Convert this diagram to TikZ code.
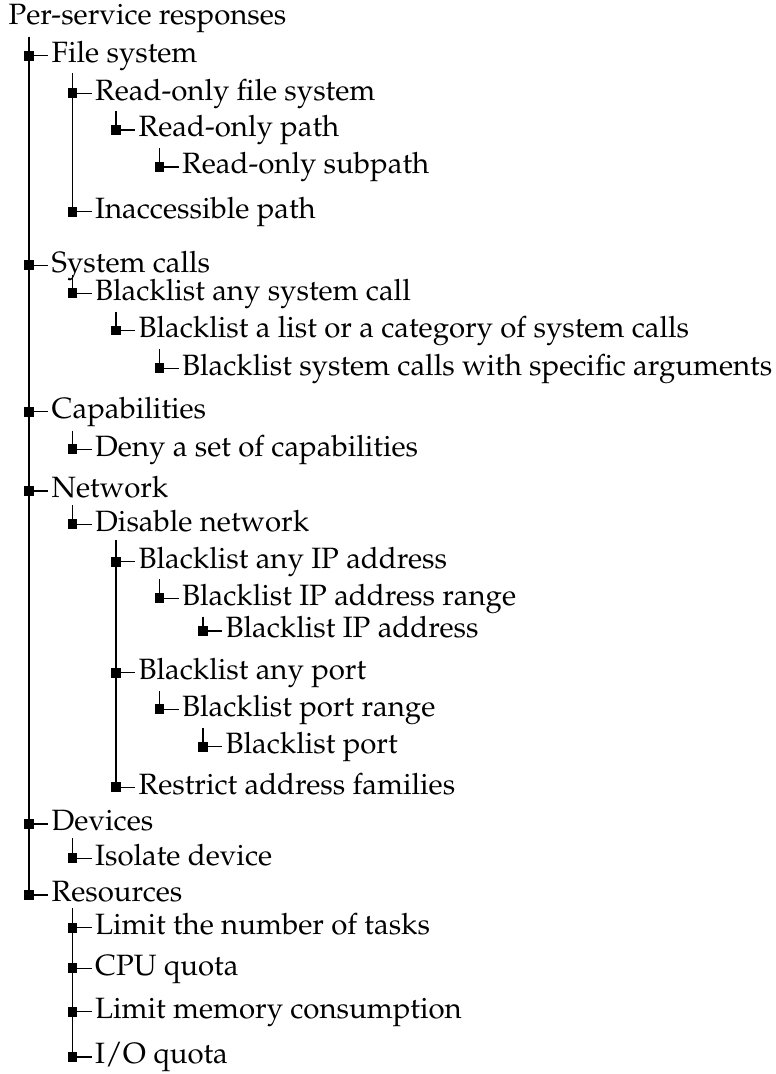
\documentclass[tikz,border=0pt]{standalone}
\IfFileExists{mathpazo.sty}{%
  \usepackage[T1]{fontenc}\usepackage{mathpazo}%
  \newcommand\treefont{\fontsize{11.05}{13}\selectfont}%
}{%
  \usepackage{fontspec}\setmainfont{Liberation Serif}%
  \newcommand\treefont{\fontsize{12.3}{14}\selectfont}%
}
\tikzset{
  sq/.style={fill=black, draw=none, inner sep=0pt, outer sep=0pt, minimum width=3.7pt, minimum height=3.7pt, shape=rectangle},
  lbl/.style={anchor=base west, inner xsep=1.2pt, inner ysep=0pt, font=\treefont},
  conn/.style={line width=0.45pt, black},
}
\newcommand\ent[4]{%
  \node[sq] (s#1) at (#2,#3) {};
  \node[lbl] (t#1) at (#2+19,#3+6.8) {#4};
  \draw[conn] (s#1.center) -- (s#1.center -| t#1.west);
}
\newcommand\vconn[3]{%
  \coordinate (v#3) at (#1,#2);
  \draw[conn] (v#3) -- (s#3.center);
}
\begin{document}
\begin{tikzpicture}[x=0.376pt, y=-0.376pt]
\useasboundingbox (0,0) rectangle (775,1074);
\def\La{29}\def\Lb{72.5}\def\Lc{116}\def\Ld{159.5}\def\Le{203}
\node[lbl, inner xsep=0pt] (root) at (8,25) {Per-service responses};
\ent{fs}{\La}{55.7}{File system}
\ent{rofs}{\Lb}{93.3}{Read-only file system}
\ent{rop}{\Lc}{130}{Read-only path}
\ent{ros}{\Ld}{167}{Read-only subpath}
\ent{inacc}{\Lb}{211.7}{Inaccessible path}
\ent{sc}{\La}{265.3}{System calls}
\ent{bla}{\Lb}{293.3}{Blacklist any system call}
\ent{bll}{\Lc}{330.5}{Blacklist a list or a category of system calls}
\ent{blg}{\Ld}{368.3}{Blacklist system calls with specific arguments}
\ent{cap}{\La}{411.7}{Capabilities}
\ent{deny}{\Lb}{449.3}{Deny a set of capabilities}
\ent{net}{\La}{491}{Network}
\ent{dis}{\Lb}{524.3}{Disable network}
\ent{bip}{\Lc}{561.7}{Blacklist any IP address}
\ent{ipr}{\Ld}{598.3}{Blacklist IP address range}
\ent{ipa}{\Le}{631}{Blacklist IP address}
\ent{bpt}{\Lc}{672.7}{Blacklist any port}
\ent{ptr}{\Ld}{709.3}{Blacklist port range}
\ent{pt}{\Le}{746.7}{Blacklist port}
\ent{raf}{\Lc}{787.3}{Restrict address families}
\ent{dev}{\La}{824}{Devices}
\ent{iso}{\Lb}{858.3}{Isolate device}
\ent{res}{\La}{895}{Resources}
\ent{tasks}{\Lb}{927.7}{Limit the number of tasks}
\ent{cpu}{\Lb}{968.3}{CPU quota}
\ent{mem}{\Lb}{1011.7}{Limit memory consumption}
\ent{io}{\Lb}{1057}{I/O quota}
% vertical connectors
\coordinate (vroot) at (\La,36.7);
\draw[conn] (vroot) -- (sres.center);
\vconn{\Lb}{73.3}{inacc}
\vconn{\Lc}{111}{rop}
\vconn{\Ld}{148}{ros}
\vconn{\Lb}{275}{bla}
\vconn{\Lc}{311.7}{bll}
\vconn{\Ld}{349}{blg}
\vconn{\Lb}{430.7}{deny}
\vconn{\Lb}{505}{dis}
\vconn{\Lc}{540}{raf}
\vconn{\Ld}{579}{ipr}
\vconn{\Le}{616.7}{ipa}
\vconn{\Ld}{691}{ptr}
\vconn{\Le}{728.3}{pt}
\vconn{\Lb}{838}{iso}
\vconn{\Lb}{908}{io}
\end{tikzpicture}
\end{document}
